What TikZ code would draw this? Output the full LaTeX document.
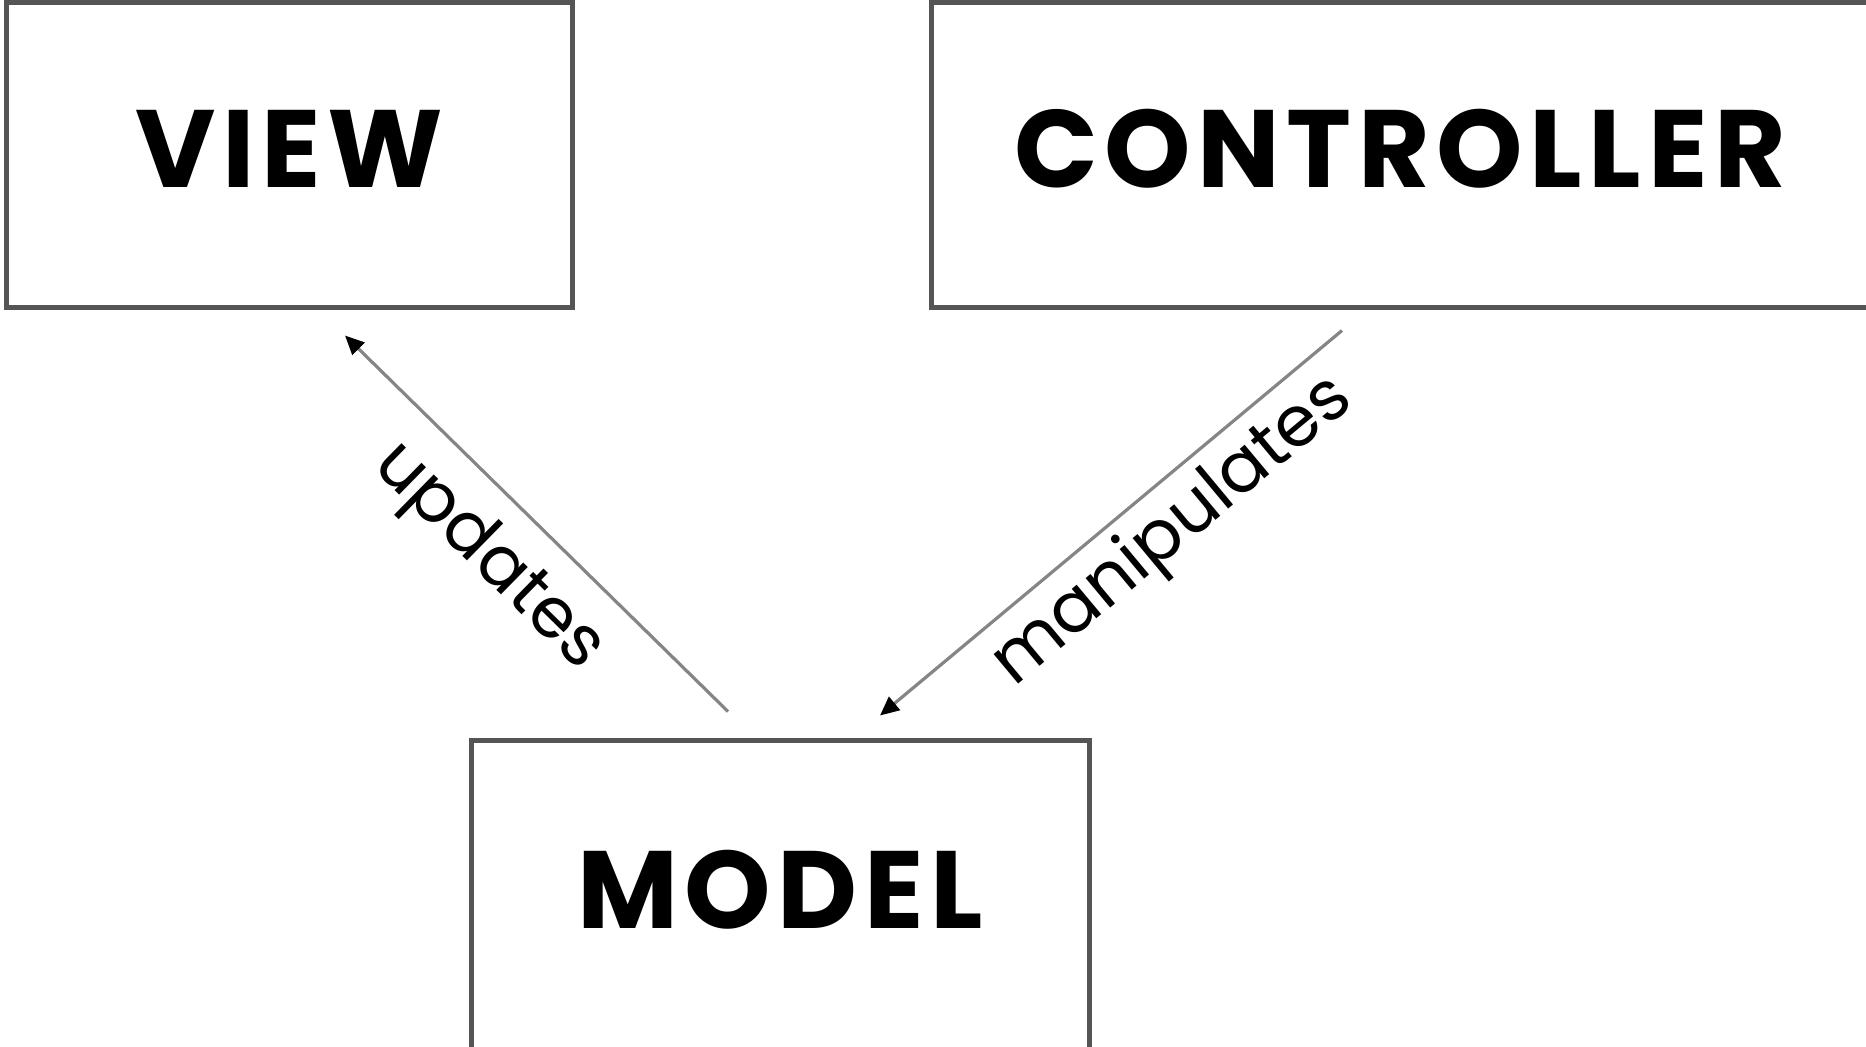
\documentclass[tikz,border=0pt]{standalone}
\usepackage{fontspec}
\setmainfont{Poppins}
\newfontfamily\boxfont{Poppins}[LetterSpace=6]
\newfontfamily\labelfont{Poppins}
\usetikzlibrary{arrows.meta,calc}
\definecolor{boxline}{HTML}{555555}
\definecolor{wire}{HTML}{858585}
\begin{document}
\begin{tikzpicture}[x=0.5pt,y=-0.5pt,
  block/.style={draw=boxline, line width=2.5pt, fill=white, inner sep=0pt,
    text depth=6pt, font=\boxfont\fontsize{55}{60}\selectfont\bfseries},
  link/.style={draw=wire, line width=1.6pt,
    -{Triangle[length=9.5pt,width=8.5pt,color=black]}},
  lbl/.style={inner sep=0pt, font=\labelfont\fontsize{35}{40}\selectfont}]
\useasboundingbox (0,0) rectangle (1866,1046);
% the three boxes
\node[block, minimum width=283pt, minimum height=152.5pt] (view) at (289,154.5) {VIEW};
\node[block, minimum width=469pt, minimum height=152.5pt] (controller) at (1400,154.5) {CONTROLLER};
\node[block, minimum width=309pt, minimum height=155pt] (model) at (780,895) {MODEL};
% connector ends, kept clear of the box borders
\coordinate (uT) at ($(model.north)+(-52,-26)$);
\coordinate (uH) at ($(view.south)+(56,26)$);
\coordinate (mT) at ($(controller.south)+(-58,21)$);
\coordinate (mH) at ($(model.north)+(100,-22)$);
% connectors
\draw[link] (uT) -- node[lbl, sloped, below=11pt, pos=0.52] {updates} (uH);
\draw[link] (mT) -- node[lbl, sloped, below=5pt, pos=0.43] {manipulates} (mH);
\end{tikzpicture}
\end{document}
